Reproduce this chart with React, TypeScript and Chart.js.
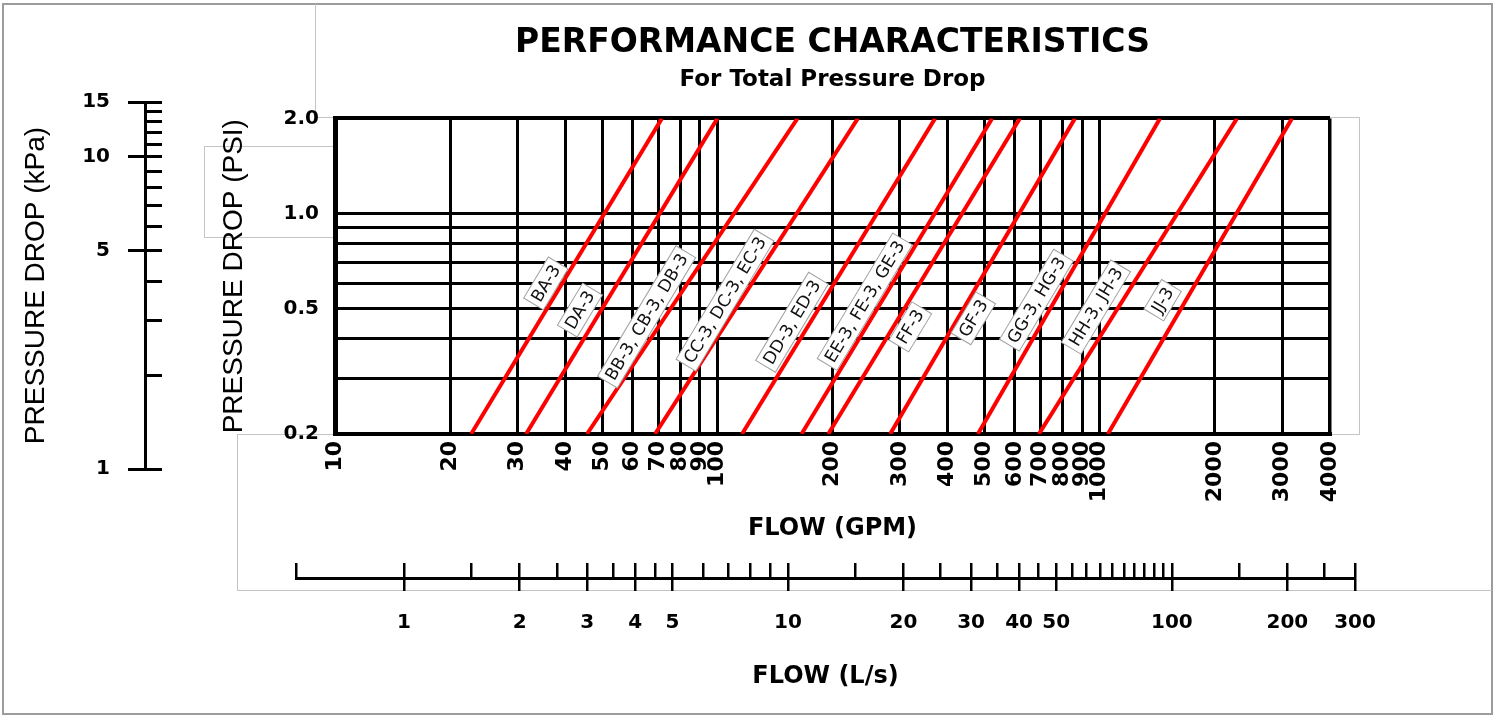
import React, { useEffect, useRef } from 'react';
import { Chart, registerables } from 'chart.js';

Chart.register(...registerables);

const W = 1498;
const H = 716;

// ---- data ----
const valveLabels = ['BA-3', 'DA-3', 'BB-3, CB-3, DB-3', 'CC-3, DC-3, EC-3', 'DD-3, ED-3', 'EE-3, FE-3, GE-3', 'FF-3', 'GF-3', 'GG-3, HG-3', 'HH-3, JH-3', 'JJ-3'];
const psiEnds = [0.2, 2.0];
const flowAtLowPsi = [22.7, 31.6, 45.6, 68.7, 116, 166, 195, 283, 480, 693, 1050];
const flowAtHighPsi = [71.6, 100, 162, 233, 371, 523, 618, 861, 1437, 2285, 3181];
const labelFlow = [35.6, 43.7, 65.3, 104.7, 156.7, 243, 319.5, 467, 683, 977, 1460];
const labelPsi = [0.6, 0.494, 0.47, 0.531, 0.452, 0.525, 0.437, 0.465, 0.531, 0.505, 0.531];

const gpmTicks = [10, 20, 30, 40, 50, 60, 70, 80, 90, 100, 200, 300, 400, 500, 600, 700, 800, 900, 1000, 2000, 3000, 4000];
const psiTicks = [0.2, 0.3, 0.4, 0.5, 0.6, 0.7, 0.8, 0.9, 1.0, 2.0];
const psiTickLabels = [0.2, 0.5, 1.0, 2.0];
const kpaTicks = [1, 2, 3, 4, 5, 6, 7, 8, 9, 10, 11, 12, 13, 14, 15];
const kpaTickLabels = [1, 5, 10, 15];
const lpsMin = 0.523;
const lpsMax = 300;
const lpsTicks = [0.523, 1, 1.5, 2, 2.5, 3, 3.5, 4, 4.5, 5, 6, 7, 8, 9, 10, 15, 20, 25, 30, 35, 40, 45, 50, 55, 60, 65, 70, 75, 80, 85, 90, 95, 100, 150, 200, 250, 300];
const lpsTickLabels = [1, 2, 3, 4, 5, 10, 20, 30, 40, 50, 100, 200, 300];

const DJ = 'DejaVu Sans';
const LIB = '"Liberation Sans", Arial, sans-serif';

const lineLabelPlugin = {
  id: 'lineLabels',
  afterDatasetsDraw(chart: any) {
    const { ctx } = chart;
    const x = chart.scales.x;
    const y = chart.scales.y;
    ctx.save();
    ctx.font = `17px "${DJ}"`;
    valveLabels.forEach((txt, i) => {
      const px = x.getPixelForValue(labelFlow[i]);
      const py = y.getPixelForValue(labelPsi[i]);
      ctx.save();
      ctx.translate(px, py);
      ctx.rotate((-59 * Math.PI) / 180);
      const w = ctx.measureText(txt).width + 8;
      const h = 23;
      ctx.fillStyle = '#ffffff';
      ctx.fillRect(-w / 2, -h / 2, w, h);
      ctx.strokeStyle = '#a0a0a0';
      ctx.lineWidth = 1;
      ctx.strokeRect(-w / 2, -h / 2, w, h);
      ctx.fillStyle = '#111111';
      ctx.textAlign = 'center';
      ctx.textBaseline = 'middle';
      ctx.fillText(txt, 0, 1);
      ctx.restore();
    });
    ctx.restore();
  },
};

const grey = '#c4c4c4';

export default function App() {
  const mainRef = useRef<HTMLCanvasElement>(null);
  const kpaRef = useRef<HTMLCanvasElement>(null);
  const lpsRef = useRef<HTMLCanvasElement>(null);

  useEffect(() => {
    const charts: Chart[] = [];
    if (mainRef.current) {
      charts.push(
        new Chart(mainRef.current, {
          type: 'scatter',
          data: {
            datasets: valveLabels.map((name, i) => ({
              label: name,
              data: [
                { x: flowAtLowPsi[i], y: psiEnds[0] },
                { x: flowAtHighPsi[i], y: psiEnds[1] },
              ],
              showLine: true,
              borderColor: '#ff0000',
              backgroundColor: '#ff0000',
              borderWidth: 4,
              pointRadius: 0,
              fill: false,
            })),
          },
          options: {
            responsive: false,
            animation: false,
            events: [],
            layout: { padding: { left: 0, right: W - 1330, top: 0, bottom: 0 } },
            plugins: {
              legend: { display: false },
              tooltip: { enabled: false },
              title: {
                display: true,
                text: 'PERFORMANCE CHARACTERISTICS',
                fullSize: false,
                color: '#000',
                font: { family: DJ, weight: 'bold', size: 33, lineHeight: 1.2 },
                padding: { top: 24, bottom: 0 },
              },
              subtitle: {
                display: true,
                text: 'For Total Pressure Drop',
                fullSize: false,
                color: '#000',
                font: { family: DJ, weight: 'bold', size: 23, lineHeight: 1.2 },
                padding: { top: 3, bottom: 24.2 },
              },
            },
            scales: {
              x: {
                type: 'logarithmic',
                min: 10,
                max: 4000,
                afterBuildTicks: (s: any) => {
                  s.ticks = gpmTicks.map((v) => ({ value: v }));
                },
                afterFit: (s: any) => {
                  s.height = H - 434;
                },
                ticks: {
                  autoSkip: false,
                  minRotation: 90,
                  maxRotation: 90,
                  padding: 7,
                  color: '#000',
                  font: { family: DJ, weight: 'bold', size: 22 },
                  callback: (v: any) => String(v),
                },
                grid: {
                  color: '#000',
                  lineWidth: (c: any) => (c.tick && c.tick.value === 4000 ? 3.5 : 3),
                  drawTicks: false,
                },
                border: { color: '#000', width: 4 },
                title: {
                  display: true,
                  text: 'FLOW (GPM)',
                  color: '#000',
                  font: { family: DJ, weight: 'bold', size: 24, lineHeight: 1.2 },
                  padding: { top: 0, bottom: 172.6 },
                },
              },
              y: {
                type: 'logarithmic',
                min: 0.2,
                max: 2.0,
                afterBuildTicks: (s: any) => {
                  s.ticks = psiTicks.map((v) => ({ value: v }));
                },
                afterFit: (s: any) => {
                  s.width = 335;
                },
                ticks: {
                  autoSkip: false,
                  padding: 16,
                  color: '#000',
                  font: { family: DJ, weight: 'bold', size: 20 },
                  callback: (v: any) => (psiTickLabels.includes(v) ? Number(v).toFixed(1) : ''),
                },
                grid: {
                  color: '#000',
                  lineWidth: (c: any) => (c.tick && c.tick.value === 2.0 ? 4 : 3),
                  drawTicks: false,
                },
                border: { color: '#000', width: 5 },
                title: {
                  display: true,
                  text: 'PRESSURE DROP (PSI)',
                  color: '#000',
                  font: { family: LIB, size: 28, lineHeight: 1.2 },
                  padding: { top: 217.7, bottom: 0 },
                },
              },
            },
          } as any,
          plugins: [lineLabelPlugin],
        })
      );
    }
    if (kpaRef.current) {
      charts.push(
        new Chart(kpaRef.current, {
          type: 'scatter',
          data: { datasets: [] },
          options: {
            responsive: false,
            animation: false,
            events: [],
            layout: { padding: { left: 0, right: W - 162, top: 102, bottom: H - 469 } },
            plugins: { legend: { display: false }, tooltip: { enabled: false } },
            scales: {
              x: { display: false },
              y: {
                type: 'logarithmic',
                position: 'left',
                min: 1,
                max: 15,
                afterBuildTicks: (s: any) => {
                  s.ticks = kpaTicks.map((v) => ({ value: v }));
                },
                afterFit: (s: any) => {
                  s.width = 145;
                },
                ticks: {
                  autoSkip: false,
                  padding: 18,
                  color: '#000',
                  font: { family: DJ, weight: 'bold', size: 20 },
                  callback: (v: any) => (kpaTickLabels.includes(v) ? String(v) : ''),
                },
                grid: {
                  color: '#000',
                  lineWidth: 3,
                  tickLength: 17,
                  tickWidth: 3,
                  tickColor: (c: any) => (c.tick && kpaTickLabels.includes(c.tick.value) ? '#000' : 'rgba(0,0,0,0)'),
                },
                border: { color: '#000', width: 3 },
                title: {
                  display: true,
                  text: 'PRESSURE DROP (kPa)',
                  color: '#000',
                  font: { family: LIB, size: 28, lineHeight: 1.2 },
                  padding: { top: 19.7, bottom: 0 },
                },
              },
            },
          } as any,
        })
      );
    }
    if (lpsRef.current) {
      charts.push(
        new Chart(lpsRef.current, {
          type: 'scatter',
          data: { datasets: [] },
          options: {
            responsive: false,
            animation: false,
            events: [],
            layout: { padding: { left: 296, right: W - 1355, top: 563, bottom: 0 } },
            plugins: { legend: { display: false }, tooltip: { enabled: false } },
            scales: {
              y: { display: false },
              x: {
                type: 'logarithmic',
                position: 'bottom',
                min: lpsMin,
                max: lpsMax,
                afterBuildTicks: (s: any) => {
                  s.ticks = lpsTicks.map((v) => ({ value: v }));
                },
                afterFit: (s: any) => {
                  s.height = H - 578;
                },
                ticks: {
                  autoSkip: false,
                  minRotation: 0,
                  maxRotation: 0,
                  padding: 20,
                  color: '#000',
                  font: { family: DJ, weight: 'bold', size: 20 },
                  callback: (v: any) => (lpsTickLabels.includes(v) ? String(v) : ''),
                },
                grid: {
                  color: '#000',
                  lineWidth: 2.5,
                  tickLength: 13,
                  tickWidth: 2.5,
                  tickColor: (c: any) => (c.tick && lpsTickLabels.includes(c.tick.value) ? '#000' : 'rgba(0,0,0,0)'),
                },
                border: { color: '#000', width: 3 },
                title: {
                  display: true,
                  text: 'FLOW (L/s)',
                  color: '#000',
                  font: { family: DJ, weight: 'bold', size: 24, lineHeight: 1.2 },
                  padding: { top: 0, bottom: 24.6 },
                },
              },
            },
          } as any,
        })
      );
    }
    return () => charts.forEach((c) => c.destroy());
  }, []);

  const abs = (s: React.CSSProperties): React.CSSProperties => ({ position: 'absolute', boxSizing: 'border-box', ...s });

  return (
    <div style={{ position: 'absolute', left: 0, top: 0, width: W, height: H, background: '#fff', overflow: 'hidden' }}>
      <div style={abs({ left: 2, top: 3, width: 1491, height: 712, border: '2px solid #9c9c9c' })} />
      <div style={abs({ left: 315, top: 4, width: 21, height: 114, borderLeft: `1px solid ${grey}`, borderBottom: `1px solid ${grey}` })} />
      <div style={abs({ left: 1328, top: 117, width: 32, height: 318, borderTop: `1px solid ${grey}`, borderRight: `1px solid ${grey}`, borderBottom: `1px solid ${grey}` })} />
      <div style={abs({ left: 204, top: 146, width: 131, height: 92, borderLeft: `1px solid ${grey}`, borderTop: `1px solid ${grey}`, borderBottom: `1px solid ${grey}` })} />
      <div style={abs({ left: 237, top: 434, width: 1255, height: 157, borderLeft: `1px solid ${grey}`, borderBottom: `1px solid ${grey}` })} />
      <div style={abs({ left: 237, top: 434, width: 100, height: 1, borderTop: `1px solid ${grey}` })} />
      <canvas ref={mainRef} width={W} height={H} style={{ position: 'absolute', left: 0, top: 0 }} />
      <canvas ref={kpaRef} width={W} height={H} style={{ position: 'absolute', left: 0, top: 0 }} />
      <canvas ref={lpsRef} width={W} height={H} style={{ position: 'absolute', left: 0, top: 0 }} />
    </div>
  );
}
